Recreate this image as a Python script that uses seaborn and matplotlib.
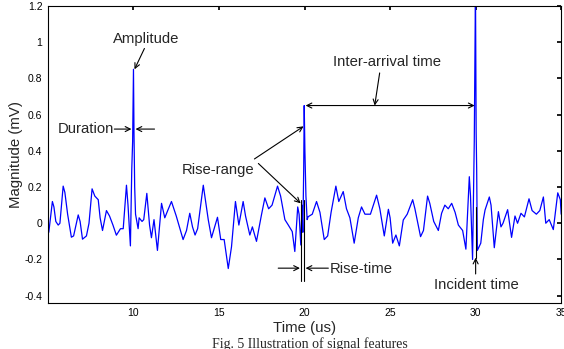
import numpy as np
import pandas as pd
import matplotlib
matplotlib.use("Agg")
import matplotlib.pyplot as plt
import seaborn as sns

# signal (time in us, magnitude in mV)
time_us = [
    5.05, 5.26, 5.35, 5.46, 5.6, 5.7, 5.89, 5.99, 6.15, 6.37, 6.5, 6.77, 6.88,
    7.02, 7.25, 7.4, 7.58, 7.74, 7.94, 8.05, 8.19, 8.42, 8.6, 8.8, 9.0, 9.24,
    9.4, 9.59, 9.68, 9.82, 9.9, 9.95, 10.0, 10.03, 10.07, 10.12, 10.27, 10.33,
    10.5, 10.6, 10.78, 10.94, 11.05, 11.2, 11.4, 11.64, 11.83, 12.0, 12.22,
    12.5, 12.9, 13.1, 13.29, 13.45, 13.6, 13.75, 14.08, 14.37, 14.56, 14.91,
    15.1, 15.3, 15.54, 15.73, 15.96, 16.16, 16.41, 16.55, 16.8, 16.95, 17.19,
    17.48, 17.68, 17.9, 18.1, 18.42, 18.6, 18.85, 19.05, 19.28, 19.43, 19.6,
    19.68, 19.78, 19.85, 19.9, 19.95, 19.98, 20.02, 20.08, 20.15, 20.21,
    20.45, 20.7, 20.9, 21.15, 21.35, 21.55, 21.83, 22.0, 22.26, 22.45, 22.65,
    22.9, 23.14, 23.33, 23.53, 23.85, 24.21, 24.4, 24.66, 24.9, 25.0, 25.15,
    25.34, 25.54, 25.77, 26.0, 26.32, 26.45, 26.78, 26.95, 27.19, 27.32,
    27.55, 27.82, 28.01, 28.2, 28.4, 28.6, 28.8, 28.99, 29.24, 29.43, 29.63,
    29.7, 29.82, 29.92, 29.99, 30.03, 30.06, 30.1, 30.3, 30.45, 30.55, 30.8,
    30.9, 31.09, 31.33, 31.48, 31.6, 31.87, 32.1, 32.3, 32.45, 32.65, 32.85,
    33.12, 33.3, 33.55, 33.75, 33.96, 34.1, 34.3, 34.54, 34.8, 34.95, 35.0,
]
magnitude_mv = [
    -0.05, 0.12, 0.09, 0.01, -0.01, 0.0, 0.205, 0.17, 0.05, -0.077, -0.07,
    0.046, 0.01, -0.088, -0.07, 0.0, 0.19, 0.15, 0.13, 0.03, -0.04, 0.07,
    0.04, -0.01, -0.066, -0.03, -0.03, 0.21, 0.1, -0.125, 0.3, 0.45, 0.85,
    0.5, 0.2, 0.05, -0.03, 0.03, 0.01, 0.02, 0.165, -0.01, -0.08, 0.02,
    -0.15, 0.11, 0.03, 0.07, 0.12, 0.04, -0.09, -0.04, 0.055, -0.02, -0.065,
    -0.03, 0.21, 0.02, -0.08, 0.033, -0.09, -0.09, -0.25, -0.13, 0.12, -0.01,
    0.12, 0.04, -0.065, -0.02, -0.1, 0.046, 0.14, 0.08, 0.1, 0.205, 0.15,
    0.02, -0.01, -0.046, -0.156, 0.09, 0.05, -0.12, 0.1, -0.05, 0.3, 0.65,
    0.4, 0.15, 0.02, 0.036, 0.05, 0.12, 0.06, -0.09, -0.07, 0.06, 0.205,
    0.12, 0.175, 0.08, 0.03, -0.11, 0.03, 0.09, 0.05, 0.05, 0.155, 0.08,
    -0.07, 0.077, 0.03, -0.11, -0.065, -0.125, 0.018, 0.05, 0.13, 0.08,
    -0.074, -0.04, 0.15, 0.11, 0.01, -0.04, 0.055, 0.1, 0.08, 0.11, 0.06,
    -0.01, -0.04, -0.143, 0.257, 0.15, -0.2, 0.45, 1.3, 0.5, 0.3, -0.15,
    -0.11, 0.02, 0.073, 0.145, 0.1, -0.135, 0.064, -0.02, 0.0, 0.075, -0.078,
    0.04, 0.0, 0.055, 0.035, 0.135, 0.07, 0.05, 0.07, 0.145, 0.0, 0.02,
    -0.035, 0.168, 0.13, 0.05,
]

x_ticks = [10, 15, 20, 25, 30, 35]
y_ticks = [-0.4, -0.2, 0, 0.2, 0.4, 0.6, 0.8, 1, 1.2]
y_tick_labels = ["-0.4", "-0.2", "0", "0.2", "0.4", "0.6", "0.8", "1", "1.2"]

df = pd.DataFrame({"time": time_us, "mag": magnitude_mv})

sns.set_theme(style="white")
plt.rcParams["font.family"] = ["Liberation Sans", "DejaVu Sans"]

fig = plt.figure(figsize=(5.64, 3.49), dpi=100)
ax = fig.add_axes([0.085, 0.132, 0.91, 0.851])

sns.lineplot(data=df, x="time", y="mag", ax=ax, color="#0000ff",
             linewidth=0.9, estimator=None, sort=False)

ax.set_xlim(5.0, 35.0)
ax.set_ylim(-0.44, 1.2)
ax.set_xticks(x_ticks)
ax.set_xticklabels([str(t) for t in x_ticks])
ax.set_yticks(y_ticks)
ax.set_yticklabels(y_tick_labels)
ax.tick_params(direction="in", length=3, labelsize=7.5, top=True, right=True,
               colors="black", pad=4)
for side in ax.spines.values():
    side.set_color("black")
    side.set_linewidth(0.8)
ax.set_xlabel("Time (us)", fontsize=10.8, labelpad=2)
ax.set_ylabel("Magnitude (mV)", fontsize=10.8, labelpad=1)

arrow = dict(arrowstyle="->", color="black", lw=0.8, mutation_scale=9,
             shrinkA=0, shrinkB=0)
both = dict(arrowstyle="<->", color="black", lw=0.8, mutation_scale=9,
            shrinkA=0, shrinkB=0)
fs = 10.7

# Amplitude
ax.annotate("", xy=(10.06, 0.85), xytext=(10.64, 0.965), arrowprops=arrow)
ax.text(10.75, 1.02, "Amplitude", fontsize=fs, ha="center", va="center")

# Duration
ax.text(8.88, 0.52, "Duration", fontsize=fs, ha="right", va="center")
ax.annotate("", xy=(9.88, 0.52), xytext=(8.88, 0.52), arrowprops=arrow)
ax.annotate("", xy=(10.12, 0.52), xytext=(11.23, 0.52), arrowprops=arrow)

# Rise-range
ax.text(14.95, 0.293, "Rise-range", fontsize=fs, ha="center", va="center")
ax.annotate("", xy=(19.94, 0.535), xytext=(17.07, 0.355), arrowprops=arrow)
ax.annotate("", xy=(19.77, 0.11), xytext=(17.3, 0.33), arrowprops=arrow)

# Inter-arrival time
ax.text(24.8, 0.89, "Inter-arrival time", fontsize=fs, ha="center", va="center")
ax.annotate("", xy=(20.06, 0.65), xytext=(29.94, 0.65), arrowprops=both)
ax.annotate("", xy=(24.1, 0.65), xytext=(24.39, 0.83), arrowprops=arrow)

# Rise-time
ax.plot([19.78, 19.78], [0.13, -0.32], color="black", lw=0.8)
ax.plot([19.98, 19.98], [0.13, -0.32], color="black", lw=0.8)
ax.annotate("", xy=(19.73, -0.248), xytext=(18.46, -0.248), arrowprops=arrow)
ax.annotate("", xy=(20.06, -0.248), xytext=(21.39, -0.248), arrowprops=arrow)
ax.text(21.45, -0.25, "Rise-time", fontsize=fs, ha="left", va="center")

# Incident time
ax.plot([30.0, 30.0], [0.09, -0.19], color="black", lw=0.8)
ax.annotate("", xy=(30.0, -0.19), xytext=(30.0, -0.28), arrowprops=arrow)
ax.text(30.06, -0.34, "Incident time", fontsize=fs, ha="center", va="center")

fig.text(0.55, 0.035, "Fig. 5 Illustration of signal features", fontsize=10,
         ha="center", va="top", family=["Liberation Serif", "DejaVu Serif"])

fig.savefig("out.png", dpi=100)
